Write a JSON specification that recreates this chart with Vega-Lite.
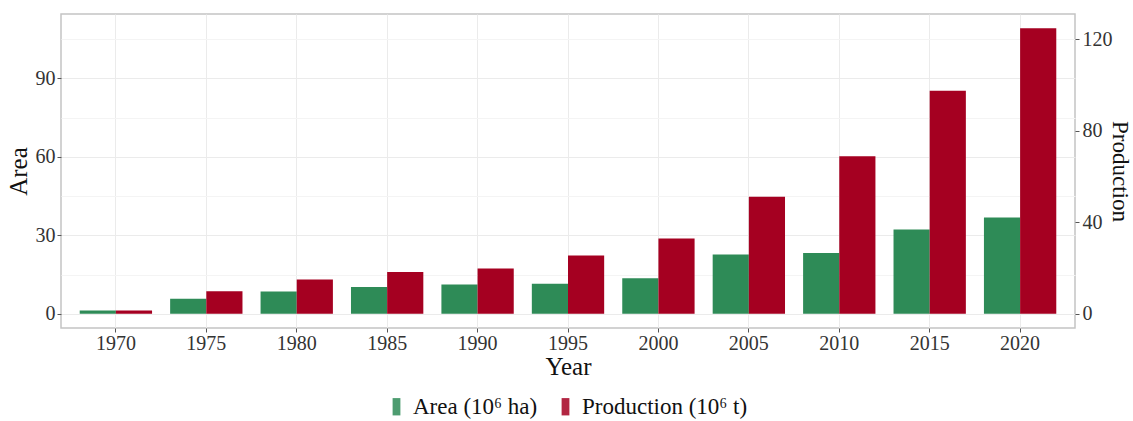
{
  "$schema": "https://vega.github.io/schema/vega-lite/v6.json",
  "width": 1014,
  "height": 314,
  "autosize": "none",
  "padding": {"left": 61, "top": 14, "right": 58, "bottom": 93},
  "background": "white",
  "config": {
    "font": "Liberation Serif",
    "view": {"stroke": "#c4c4c4", "strokeWidth": 1.5},
    "axis": {
      "labelFont": "Liberation Serif",
      "titleFont": "Liberation Serif",
      "labelFontSize": 20,
      "titleFontSize": 25,
      "titleFontWeight": "normal",
      "labelColor": "#333333",
      "titleColor": "#111111",
      "tickColor": "#555555",
      "tickSize": 4,
      "domain": false,
      "gridColor": "#ebebeb",
      "gridWidth": 1
    },
    "legend": {
      "labelFont": "Liberation Serif",
      "labelFontSize": 23,
      "labelColor": "#111111",
      "labelLimit": 0
    }
  },
  "data": {
    "values": [
      {"year": "1970", "series": "Area (10⁶ ha)", "value": 1.2},
      {"year": "1975", "series": "Area (10⁶ ha)", "value": 5.75},
      {"year": "1980", "series": "Area (10⁶ ha)", "value": 8.5},
      {"year": "1985", "series": "Area (10⁶ ha)", "value": 10.2},
      {"year": "1990", "series": "Area (10⁶ ha)", "value": 11.2},
      {"year": "1995", "series": "Area (10⁶ ha)", "value": 11.5},
      {"year": "2000", "series": "Area (10⁶ ha)", "value": 13.6},
      {"year": "2005", "series": "Area (10⁶ ha)", "value": 22.7},
      {"year": "2010", "series": "Area (10⁶ ha)", "value": 23.2},
      {"year": "2015", "series": "Area (10⁶ ha)", "value": 32.2},
      {"year": "2020", "series": "Area (10⁶ ha)", "value": 36.8},
      {"year": "1970", "series": "Production (10⁶ t)", "value": 1.4},
      {"year": "1975", "series": "Production (10⁶ t)", "value": 9.8},
      {"year": "1980", "series": "Production (10⁶ t)", "value": 15.0},
      {"year": "1985", "series": "Production (10⁶ t)", "value": 18.2},
      {"year": "1990", "series": "Production (10⁶ t)", "value": 19.8},
      {"year": "1995", "series": "Production (10⁶ t)", "value": 25.5},
      {"year": "2000", "series": "Production (10⁶ t)", "value": 32.9},
      {"year": "2005", "series": "Production (10⁶ t)", "value": 51.1},
      {"year": "2010", "series": "Production (10⁶ t)", "value": 68.9},
      {"year": "2015", "series": "Production (10⁶ t)", "value": 97.5},
      {"year": "2020", "series": "Production (10⁶ t)", "value": 124.8}
    ]
  },
  "encoding": {
    "x": {
      "field": "year",
      "type": "nominal",
      "scale": {"paddingInner": 0.2, "paddingOuter": 0.207},
      "axis": {
        "title": "Year",
        "labelAngle": 0,
        "grid": true,
        "labelPadding": 1,
        "titlePadding": 1
      }
    },
    "xOffset": {
      "field": "series",
      "type": "nominal",
      "scale": {"domain": ["Area (10⁶ ha)", "Production (10⁶ t)"]}
    },
    "color": {
      "field": "series",
      "type": "nominal",
      "scale": {
        "domain": ["Area (10⁶ ha)", "Production (10⁶ t)"],
        "range": ["#2e8b57", "#a50021"]
      },
      "legend": {
        "title": null,
        "orient": "none",
        "legendX": 324,
        "legendY": 381,
        "direction": "horizontal",
        "symbolType": "M-0.45,-1H0.45V1H-0.45Z",
        "symbolSize": 300,
        "symbolStrokeWidth": 0,
        "symbolOpacity": 0.85,
        "columnPadding": 16,
        "labelOffset": 5
      }
    }
  },
  "layer": [
    {
      "transform": [{"filter": "datum.series === 'Area (10⁶ ha)'"}],
      "mark": {"type": "bar"},
      "encoding": {
        "y": {
          "field": "value",
          "type": "quantitative",
          "scale": {"domain": [-5.46, 114.66], "nice": false, "zero": false},
          "axis": {
            "title": "Area",
            "orient": "left",
            "values": [0, 15, 30, 45, 60, 75, 90, 105],
            "labelExpr": "datum.value % 30 === 0 ? datum.label : ''",
            "tickOpacity": {"condition": {"test": "datum.value % 30 === 0", "value": 1}, "value": 0},
            "gridColor": {"condition": {"test": "datum.value % 30 === 0", "value": "#ebebeb"}, "value": "#f4f4f4"},
            "grid": true,
            "labelPadding": 2,
            "titlePadding": 4
          }
        }
      }
    },
    {
      "transform": [{"filter": "datum.series === 'Production (10⁶ t)'"}],
      "mark": {"type": "bar"},
      "encoding": {
        "y": {
          "field": "value",
          "type": "quantitative",
          "scale": {"domain": [-6.24, 131.05], "nice": false, "zero": false},
          "axis": {
            "title": "Production",
            "orient": "right",
            "values": [0, 40, 80, 120],
            "grid": false,
            "labelPadding": 3,
            "titlePadding": -5,
            "titleFontSize": 23
          }
        }
      }
    }
  ],
  "resolve": {"scale": {"y": "independent"}, "axis": {"y": "independent"}}
}
